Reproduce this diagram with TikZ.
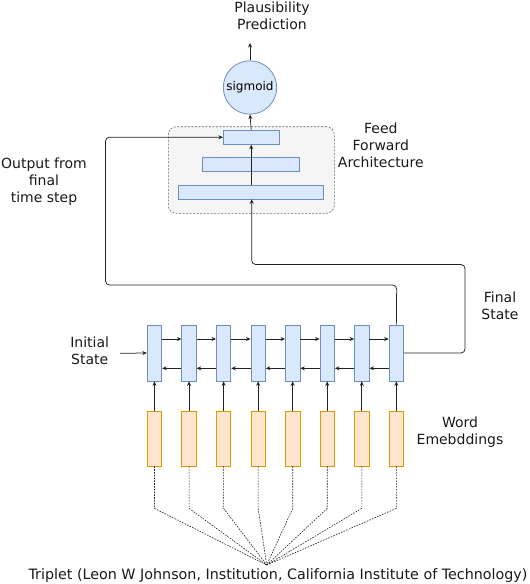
\documentclass[tikz,border=0pt]{standalone}
\usepackage{fontspec}
\setmainfont{DejaVu Sans}
\usetikzlibrary{arrows.meta}
\definecolor{cellfill}{HTML}{DAE8FC}
\definecolor{cellline}{HTML}{6C8EBF}
\definecolor{embfill}{HTML}{FFE6CC}
\definecolor{embline}{HTML}{D79B00}
\definecolor{boxfill}{HTML}{F5F5F5}
\definecolor{boxline}{HTML}{666666}
\definecolor{wire}{HTML}{222222}
\tikzset{
  cell/.style={draw=cellline, fill=cellfill, line width=0.8pt, minimum width=14.5pt, minimum height=56pt, inner sep=0pt},
  emb/.style={draw=embline, fill=embfill, line width=0.8pt, minimum width=14.5pt, minimum height=55pt, inner sep=0pt},
  ffbar/.style={draw=cellline, fill=cellfill, line width=0.8pt, minimum height=14.3pt, inner sep=0pt},
  wirearrow/.style={draw=wire, line width=0.75pt, -{Stealth[length=4.5pt,width=4pt]}},
  dashline/.style={draw=wire, line width=0.6pt, dash pattern=on 1.6pt off 1.2pt},
  lbl/.style={align=center, font=\fontsize{14}{17}\selectfont, inner sep=0pt, text=black!90}
}
\begin{document}
\begin{tikzpicture}[x=1pt,y=-1pt]
\useasboundingbox (0,0) rectangle (530,584);
% feed forward container
\node[draw=boxline, fill=boxfill, dash pattern=on 2pt off 1.5pt, line width=0.6pt, rounded corners=8pt, minimum width=166pt, minimum height=86.6pt, inner sep=0pt] (ff) at (251.3,170) {};
\node[ffbar, minimum width=55.7pt] (ff1) at (251.2,137.2) {};
\node[ffbar, minimum width=97pt] (ff2) at (250.8,164.5) {};
\node[ffbar, minimum width=145pt] (ff3) at (250.8,192.2) {};
% sigmoid
\node[circle, draw=cellline, fill=cellfill, line width=0.8pt, minimum size=53.4pt, inner sep=0pt, font=\fontsize{12}{14}\selectfont] (sig) at (250,87.5) {sigmoid};
\coordinate (out) at (250,43);
\node[lbl] (pp) at (272,15.5) {Plausibility\\Prediction};
\node[lbl] (ffl) at (380.8,145) {Feed\\Forward\\Architecture};
\node[lbl] (ofl) at (44,182) {Output from\\final\\time step};
\node[lbl] (isl) at (89.7,351) {Initial\\State};
\node[lbl] (fsl) at (500,306) {Final\\State};
\node[lbl] (wel) at (460,432) {Word\\Emebddings};
% cells
\foreach \i in {1,...,8}{
  \node[cell] (c\i) at ({154.5+34.55*(\i-1)},353) {};
  \node[emb] (e\i) at ({154.5+34.55*(\i-1)},438.5) {};
}
\coordinate (fw) at (0,339);
\coordinate (bw) at (0,368.3);
\coordinate (init) at (120,353.3);
\coordinate (tp) at (266.7,565);
\node[font=\fontsize{14.3}{16}\selectfont, inner sep=0pt, text=black!90] (trip) at (278,575.5) {Triplet (Leon W Johnson, Institution, California Institute of Technology)};
% arrows between cells
\foreach \i [evaluate=\i as \j using int(\i+1)] in {1,...,7}{
  \draw[wirearrow] (c\i.east |- fw) -- (c\j.west |- fw);
  \draw[wirearrow] (c\j.west |- bw) -- (c\i.east |- bw);
}
\foreach \i in {1,...,8}{
  \draw[wirearrow] (e\i.north) -- (c\i.south);
  \draw[dashline] (e\i.south) -- ++(0,42) -- (tp);
}
\draw[wirearrow] (init) -- (c1.west);
% final state to FF
\draw[wirearrow, rounded corners=4pt] (c8.east) -- (465,353) -- (465,264.5) -- (251.7,264.5) -- (251.7,199.3);
% last output to FF top
\draw[wirearrow, rounded corners=4pt] (c8.north) -- (396.7,285) -- (105.5,285) -- (105.5,137.2) -- (ff1.west);
\draw[wirearrow] (ff3.north -| ff1.south) -- (ff1.south);
\draw[wirearrow] (ff1.north) -- (sig.south);
\draw[wirearrow] (sig.north) -- (out);
\end{tikzpicture}
\end{document}
